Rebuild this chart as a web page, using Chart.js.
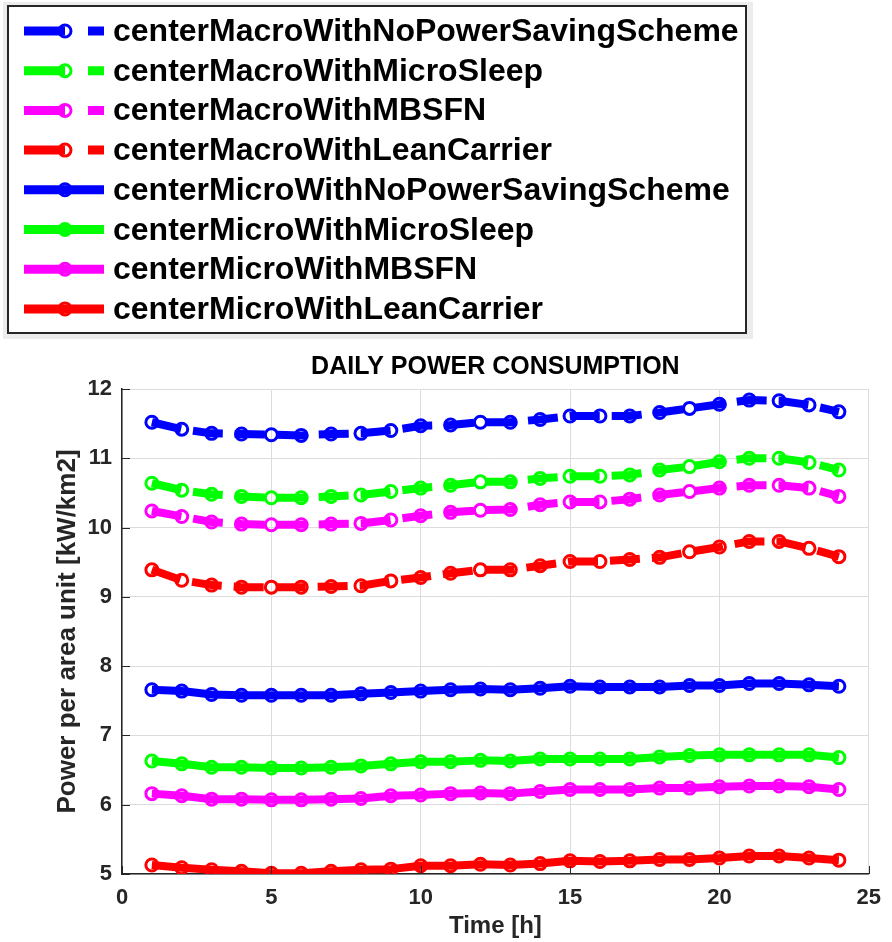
<!DOCTYPE html>
<html>
<head>
<meta charset="utf-8">
<title>Daily power consumption</title>
<script src="https://cdn.jsdelivr.net/npm/chart.js@4.4.1/dist/chart.umd.min.js"></script>
<style>
  html, body { margin: 0; padding: 0; background: #fff; }
  canvas { display: block; }
</style>
</head>
<body>
<canvas id="powerChart" width="892" height="942"></canvas>
<script>
// Data
const hours = [1, 2, 3, 4, 5, 6, 7, 8, 9, 10, 11, 12, 13, 14, 15, 16, 17, 18, 19, 20, 21, 22, 23, 24];

const macroNoSaving = [11.52, 11.42, 11.36, 11.35, 11.34, 11.33, 11.35, 11.36, 11.40, 11.47, 11.48, 11.52,
                       11.52, 11.56, 11.61, 11.61, 11.61, 11.66, 11.72, 11.78, 11.84, 11.83, 11.77, 11.67];
const macroMicroSleep = [10.64, 10.54, 10.48, 10.45, 10.43, 10.43, 10.45, 10.47, 10.52, 10.57, 10.61, 10.66,
                         10.66, 10.71, 10.74, 10.74, 10.76, 10.83, 10.88, 10.95, 11.00, 11.00, 10.94, 10.83];
const macroMBSFN = [10.24, 10.16, 10.08, 10.05, 10.04, 10.04, 10.05, 10.06, 10.11, 10.17, 10.22, 10.25,
                    10.26, 10.33, 10.37, 10.37, 10.41, 10.47, 10.52, 10.57, 10.61, 10.61, 10.57, 10.45];
const macroLeanCarrier = [9.39, 9.24, 9.17, 9.14, 9.14, 9.14, 9.15, 9.16, 9.23, 9.28, 9.34, 9.39,
                          9.39, 9.45, 9.51, 9.51, 9.54, 9.57, 9.65, 9.72, 9.80, 9.80, 9.70, 9.58];

const microNoSaving = [7.66, 7.64, 7.59, 7.58, 7.58, 7.58, 7.58, 7.60, 7.62, 7.64, 7.66, 7.67,
                       7.66, 7.68, 7.71, 7.70, 7.70, 7.70, 7.72, 7.72, 7.75, 7.75, 7.73, 7.71];
const microMicroSleep = [6.63, 6.59, 6.54, 6.54, 6.53, 6.53, 6.54, 6.56, 6.59, 6.62, 6.62, 6.64,
                         6.63, 6.66, 6.66, 6.66, 6.66, 6.69, 6.71, 6.72, 6.72, 6.72, 6.72, 6.68];
const microMBSFN = [6.16, 6.13, 6.08, 6.08, 6.07, 6.07, 6.08, 6.09, 6.13, 6.14, 6.16, 6.17,
                    6.16, 6.19, 6.22, 6.22, 6.22, 6.24, 6.24, 6.26, 6.27, 6.27, 6.26, 6.22];
const microLeanCarrier = [5.13, 5.09, 5.06, 5.04, 5.01, 5.01, 5.04, 5.06, 5.07, 5.12, 5.12, 5.14,
                          5.13, 5.15, 5.19, 5.18, 5.19, 5.21, 5.21, 5.23, 5.26, 5.26, 5.23, 5.20];

const seriesNames = [
  'centerMacroWithNoPowerSavingScheme',
  'centerMacroWithMicroSleep',
  'centerMacroWithMBSFN',
  'centerMacroWithLeanCarrier',
  'centerMicroWithNoPowerSavingScheme',
  'centerMicroWithMicroSleep',
  'centerMicroWithMBSFN',
  'centerMicroWithLeanCarrier'
];
const seriesValues = [macroNoSaving, macroMicroSleep, macroMBSFN, macroLeanCarrier,
                      microNoSaving, microMicroSleep, microMBSFN, microLeanCarrier];
const seriesColors = ['#0000ff', '#00ff00', '#ff00ff', '#ff0000',
                      '#0000ff', '#00ff00', '#ff00ff', '#ff0000'];

const xTicks = [0, 5, 10, 15, 20, 25];
const yTicks = [5, 6, 7, 8, 9, 10, 11, 12];

const AXIS = '#262626';
const FONT = '"Liberation Sans", Arial, sans-serif';
const DASH = [30, 12];

// Build datasets
const datasets = seriesNames.map((name, i) => ({
  label: name,
  data: hours.map((h, k) => ({ x: h, y: seriesValues[i][k] })),
  borderColor: seriesColors[i],
  borderWidth: 8,
  borderDash: i < 4 ? DASH : [],
  borderJoinStyle: 'round',
  pointStyle: 'circle',
  pointRadius: 6,
  pointBorderWidth: 3,
  pointBorderColor: seriesColors[i],
  pointBackgroundColor: 'rgba(0,0,0,0)',
  tension: 0,
  fill: false
}));

// Title, inward ticks and the big legend box on top
const decorations = {
  id: 'decorations',
  afterDraw(chart) {
    const ctx = chart.ctx;
    const xs = chart.scales.x, ys = chart.scales.y;
    const area = chart.chartArea;

    ctx.save();
    // inward tick marks
    ctx.strokeStyle = AXIS;
    ctx.lineWidth = 1;
    yTicks.forEach(v => {
      const py = Math.round(ys.getPixelForValue(v)) + 0.5;
      ctx.beginPath(); ctx.moveTo(area.left, py); ctx.lineTo(area.left + 8, py); ctx.stroke();
    });
    xTicks.forEach(v => {
      const px = Math.round(xs.getPixelForValue(v)) + 0.5;
      ctx.beginPath(); ctx.moveTo(px, area.bottom); ctx.lineTo(px, area.bottom - 8); ctx.stroke();
    });

    // title
    ctx.fillStyle = '#000';
    ctx.font = 'bold 25px ' + FONT;
    ctx.textAlign = 'center';
    ctx.textBaseline = 'middle';
    ctx.fillText('DAILY POWER CONSUMPTION', (area.left + area.right) / 2, 367);

    // legend box
    ctx.fillStyle = '#ececec';
    ctx.fillRect(3, 2, 750, 337);
    ctx.fillStyle = '#fff';
    ctx.fillRect(8, 6, 738, 327);
    ctx.strokeStyle = AXIS;
    ctx.lineWidth = 2;
    ctx.strokeRect(8, 6, 738, 327);

    ctx.font = 'bold 32px ' + FONT;
    ctx.textAlign = 'left';
    ctx.textBaseline = 'alphabetic';
    chart.data.datasets.forEach((ds, i) => {
      const y = 31 + i * 39.7;
      ctx.strokeStyle = ds.borderColor;
      ctx.lineWidth = 9;
      ctx.setLineDash(i < 4 ? [41, 23] : []);
      ctx.beginPath(); ctx.moveTo(24, y); ctx.lineTo(104, y); ctx.stroke();
      ctx.setLineDash([]);
      ctx.lineWidth = 3;
      ctx.beginPath(); ctx.arc(65, y, 6, 0, Math.PI * 2); ctx.stroke();
      ctx.fillStyle = '#000';
      ctx.fillText(ds.label, 113, y + 10);
    });
    ctx.restore();
  }
};

new Chart(document.getElementById('powerChart'), {
  type: 'line',
  data: { datasets },
  options: {
    responsive: false,
    animation: false,
    devicePixelRatio: 1,
    layout: { padding: { top: 389, right: 18, left: 0, bottom: 0 } },
    plugins: {
      legend: { display: false },
      tooltip: { enabled: false },
      title: { display: false }
    },
    scales: {
      x: {
        type: 'linear',
        min: 0,
        max: 25,
        afterFit(scale) { scale.height = 68; },
        afterBuildTicks(scale) { scale.ticks = xTicks.map(v => ({ value: v })); },
        grid: { color: '#dcdcdc', lineWidth: 1, drawTicks: false },
        border: { display: true, color: AXIS, width: 1.5 },
        ticks: {
          color: AXIS,
          padding: 11,
          maxRotation: 0,
          font: { family: FONT, size: 22, weight: 'bold' }
        },
        title: {
          display: true,
          text: 'Time [h]',
          color: AXIS,
          padding: { top: 0, bottom: 1 },
          font: { family: FONT, size: 24, weight: 'bold' }
        }
      },
      y: {
        min: 5,
        max: 12,
        afterFit(scale) { scale.width = 122; },
        afterBuildTicks(scale) { scale.ticks = yTicks.map(v => ({ value: v })); },
        grid: { color: '#dcdcdc', lineWidth: 1, drawTicks: false },
        border: { display: true, color: AXIS, width: 1.5 },
        ticks: {
          color: AXIS,
          padding: 10,
          font: { family: FONT, size: 22, weight: 'bold' }
        },
        title: {
          display: true,
          text: 'Power per area unit [kW/km2]',
          color: AXIS,
          padding: { top: 52, bottom: 0 },
          font: { family: FONT, size: 26, weight: 'bold' }
        }
      }
    }
  },
  plugins: [decorations]
});
</script>
</body>
</html>
